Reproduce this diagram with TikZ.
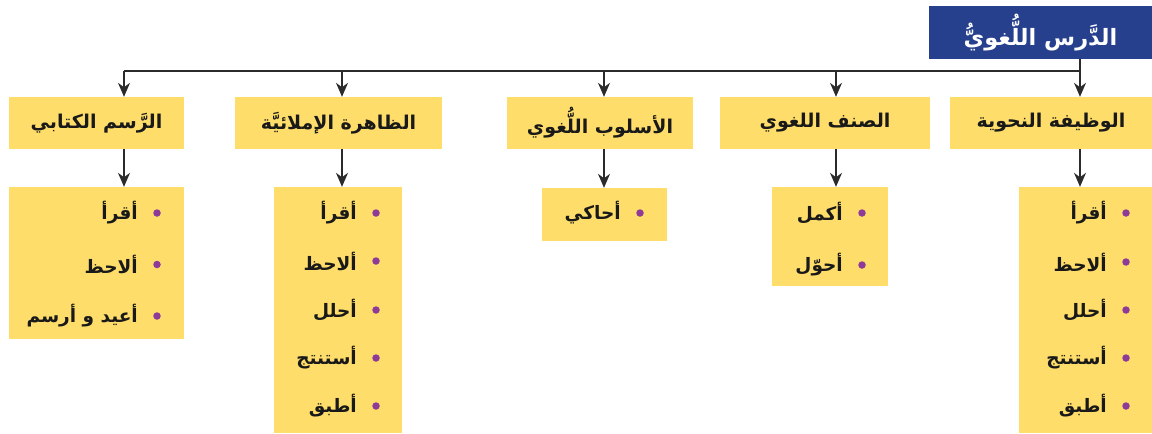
\documentclass[tikz,border=0pt]{standalone}
\usepackage{fontspec}
\usetikzlibrary{arrows.meta}
\TeXXeTstate=1
\newfontfamily\arabicfont[Script=Arabic]{DejaVu Sans}
\definecolor{boxyellow}{HTML}{FEDD6A}
\definecolor{navy}{HTML}{26408E}
\definecolor{bulletpurple}{HTML}{8E3A98}
\definecolor{linegray}{HTML}{2B2B2B}
\tikzset{
  titlebox/.style={fill=navy, draw=none, minimum width=223pt, minimum height=53pt, inner sep=0pt,
    font=\arabicfont\bfseries\fontsize{22.5}{26}\selectfont, text=white},
  headbox/.style={fill=boxyellow, draw=none, minimum height=52pt, inner sep=0pt,
    font=\arabicfont\bfseries\fontsize{19}{22}\selectfont, text=black!90},
  listbox/.style={fill=boxyellow, draw=none, inner sep=0pt},
  itemtext/.style={anchor=east, inner sep=0pt, font=\arabicfont\bfseries\fontsize{18.5}{21}\selectfont, text=black!90},
  bulletdot/.style={circle, fill=bulletpurple, minimum size=7.5pt, inner sep=0pt},
  conn/.style={draw=linegray, line width=1.2pt},
  arr/.style={conn, -{Stealth[length=14pt,width=12pt,inset=4.5pt]}},
}
\newcommand{\ar}[1]{\beginR #1\endR}
\begin{document}
\begin{tikzpicture}[x=1pt,y=-1pt]
\useasboundingbox (0,0) rectangle (1152,434);
\fill[white] (0,0) rectangle (1152,434);

% title
\node[titlebox] (title) at (1040.5,32.5) {\ar{الدَّرس اللُّغويُّ}};

% bus coordinates
\coordinate (c1) at (124,71);
\coordinate (c2) at (342,71);
\coordinate (c3) at (604,71);
\coordinate (c4) at (836,71);
\coordinate (c5) at (1080,71);

% headers
\node[headbox, minimum width=175pt] (h1) at (96.5,123) {\ar{الرَّسم الكتابي}};
\node[headbox, minimum width=207pt] (h2) at (338.5,123) {\ar{الظاهرة الإملائيَّة}};
\node[headbox, minimum width=186pt] (h3) at (600,123) {\ar{الأسلوب اللُّغوي}};
\node[headbox, minimum width=210pt] (h4) at (825,123) {\ar{الصنف اللغوي}};
\node[headbox, minimum width=202pt] (h5) at (1051,123) {\ar{الوظيفة النحوية}};

% list boxes
\node[listbox, minimum width=175pt, minimum height=152pt] (l1) at (96.5,263) {};
\node[listbox, minimum width=128pt, minimum height=246pt] (l2) at (338,310) {};
\node[listbox, minimum width=125pt, minimum height=53pt] (l3) at (604.5,214.5) {};
\node[listbox, minimum width=116pt, minimum height=99pt] (l4) at (830,236.5) {};
\node[listbox, minimum width=133pt, minimum height=246pt] (l5) at (1085.5,310) {};

% connectors
\draw[conn] (c1) -- (c5);
\draw[conn] (title.south -| c5) -- (c5);
\foreach \i in {1,...,5} {
  \draw[arr] (c\i) -- (h\i.north -| c\i);
  \draw[arr] (h\i.south -| c\i) -- (l\i.north -| c\i);
}

% list 1
\foreach \y/\t [count=\k] in {213/أقرأ, 264.5/ألاحظ, 316/أعيد و أرسم} {
  \node[bulletdot] (b1\k) at (157,\y) {};
  \node[itemtext] (t1\k) at (138,\y) {\ar{\t}};
}
% list 2
\foreach \y/\t [count=\k] in {213/أقرأ, 261/ألاحظ, 310/أحلل, 358/أستنتج, 406/أطبق} {
  \node[bulletdot] (b2\k) at (376,\y) {};
  \node[itemtext] (t2\k) at (357,\y) {\ar{\t}};
}
% list 3
\node[bulletdot] (b31) at (640,213) {};
\node[itemtext] (t31) at (621,213) {\ar{أحاكي}};
% list 4
\foreach \y/\t [count=\k] in {213/أكمل, 265/أحوّل} {
  \node[bulletdot] (b4\k) at (862,\y) {};
  \node[itemtext] (t4\k) at (843,\y) {\ar{\t}};
}
% list 5
\foreach \y/\t [count=\k] in {213/أقرأ, 262/ألاحظ, 310/أحلل, 358/أستنتج, 406/أطبق} {
  \node[bulletdot] (b5\k) at (1126,\y) {};
  \node[itemtext] (t5\k) at (1107,\y) {\ar{\t}};
}
\end{tikzpicture}
\end{document}
